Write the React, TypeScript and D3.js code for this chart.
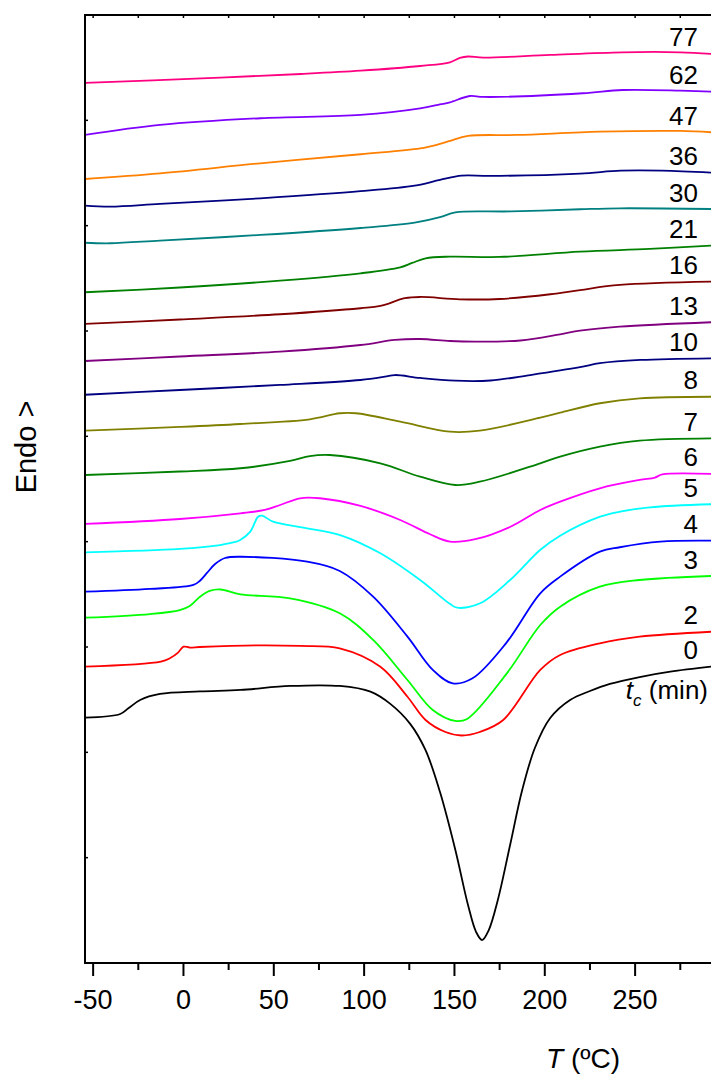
import React from "react";
import * as d3 from "d3";

type P = [number, number];

// x: temperature (ºC), y: heat flow (a.u., endo up, curves offset)
const tc77: P[] = [[-54.5,83.55],[10,83.98],[65,84.40],[98,84.71],[131,85.16],[147.5,85.51],[153,85.92],[157.5,86.06],[166,85.95],[203,86.21],[243,86.46],[275,86.46],[292,86.30]];
const tc62: P[] = [[-54.5,78.61],[-13,79.56],[42.5,80.20],[98,80.51],[131,81.13],[142,81.51],[147.5,81.71],[158.5,82.31],[166,82.22],[221,82.57],[243,82.88],[275,82.82],[292,82.72]];
const tc47: P[] = [[-54.5,74.43],[-13,74.97],[42.5,75.92],[98,76.78],[131,77.33],[142,77.76],[147.5,78.04],[157.5,78.52],[184.5,78.61],[230.5,78.92],[275,78.99],[292,78.87]];
const tc36: P[] = [[-54.5,71.90],[-40.5,71.80],[-13,72.06],[42.5,72.60],[98,73.27],[128,73.80],[142,74.34],[154,74.75],[169.5,74.72],[219.5,74.95],[242,75.22],[265,75.22],[292,75.03]];
const tc30: P[] = [[-54.5,68.38],[-40.5,68.33],[-13,68.58],[42.5,69.12],[98,69.78],[128,70.28],[142,70.80],[150.5,71.27],[181,71.35],[219.5,71.56],[241.5,71.65],[292,71.58]];
const tc21: P[] = [[-54.5,63.68],[-2,64.13],[53.5,64.78],[98,65.48],[120,66.05],[126.5,66.46],[134,66.90],[147.5,67.06],[175,67.03],[219.5,67.53],[258,67.79],[292,68.10]];
const tc16: P[] = [[-54.5,60.67],[-2,61.09],[53.5,61.59],[98,62.16],[109,62.38],[122.5,63.11],[131,63.23],[153,63.01],[175,63.04],[203,63.49],[219.5,63.89],[241.5,64.37],[292,64.68]];
const tc13: P[] = [[-54.5,57.15],[-2,57.58],[53.5,58.04],[98,58.67],[117,59.15],[131,59.24],[147.5,59.05],[161.5,58.99],[186.5,59.10],[208.5,59.69],[219.5,60.03],[241.5,60.41],[292,60.83]];
const tc10: P[] = [[-54.5,53.95],[-2,54.40],[53.5,54.88],[98,55.35],[111.5,55.66],[117,55.82],[131,55.54],[150.5,55.28],[170,55.30],[192,55.82],[219.5,56.56],[230.5,56.94],[253,57.25],[292,57.41]];
const tc8: P[] = [[-54.5,50.54],[-2,50.89],[31.5,51.17],[70,51.62],[86.5,52.19],[95.5,52.19],[120,51.39],[147.5,50.44],[164,50.54],[197.5,51.77],[208.5,52.25],[230.5,53.14],[252.5,53.61],[292,53.76]];
const tc7: P[] = [[-54.5,46.33],[-2,46.66],[31.5,46.97],[59,47.66],[70,48.13],[81,48.23],[109,47.44],[131,46.17],[150.5,45.38],[164,45.69],[197.5,47.44],[208.5,48.07],[230.5,49.02],[252.5,49.59],[292,49.81]];
const tc6: P[] = [[-54.5,41.68],[-2,42.15],[31.5,42.69],[45,43.01],[53.5,43.48],[64.5,44.12],[75.5,44.12],[98,43.39],[120,42.06],[136.5,40.70],[147.5,40.00],[161.5,40.23],[181,41.42],[197.5,43.01],[208.5,43.80],[230.5,45.07],[252.5,45.86],[261,46.09],[265,46.38],[292,46.43]];
const tc5: P[] = [[-54.5,38.99],[-2,39.31],[20.3,39.68],[28.6,39.97],[31.4,40.16],[37,40.95],[41.3,42.37],[43.5,42.47],[49.6,41.90],[68.4,41.27],[86.7,40.63],[109,38.90],[131,36.36],[147.6,34.08],[151.5,33.73],[164.2,34.15],[180.8,36.36],[197.4,39.21],[208.5,40.57],[230.6,42.37],[241.7,42.85],[258.3,43.26],[292,43.55]];
const tc4: P[] = [[-54.5,35.25],[-18.5,35.51],[5.5,35.89],[9,36.27],[13,37.03],[17.5,37.88],[23,38.45],[31.5,38.57],[68.5,38.10],[86.5,37.22],[105,34.78],[124,30.98],[138,27.82],[149,26.55],[160,27.03],[178.5,30.35],[197.5,35.10],[208.5,36.68],[230.5,39.05],[241.5,39.47],[264,40.00],[292,40.09]];
const tc3: P[] = [[-54.5,32.78],[-18.5,33.13],[-2,33.51],[3.5,33.89],[9,34.75],[14.5,35.32],[20.5,35.46],[31.5,35.00],[59,34.62],[86.5,33.20],[105,30.67],[124,26.87],[138,24.02],[150.5,22.98],[157,23.17],[179,27.50],[197.5,32.09],[208.5,33.83],[230.5,35.73],[252.5,36.36],[292,36.74]];
const tc2: P[] = [[-54.5,28.13],[-12.5,28.61],[-7.5,28.93],[-3,29.46],[0,30.03],[3.5,29.95],[9,30.00],[42.5,30.16],[64.5,30.10],[86.5,29.88],[109,28.13],[124,25.28],[134,23.07],[145,21.93],[154,21.60],[164,21.93],[177,23.07],[197.5,27.82],[208.5,29.24],[230.5,30.35],[252.5,30.98],[292,31.45]];
const tc0: P[] = [[-54.5,23.29],[-35,23.64],[-30.5,24.18],[-24,24.97],[-13,25.54],[9,25.78],[31.5,25.92],[59,26.30],[86.5,26.30],[103.5,25.76],[114.5,24.60],[125.5,22.70],[134,20.20],[142,16.23],[150.5,10.73],[157.5,5.51],[162,2.94],[165.3,2.18],[169,3.13],[174,5.98],[180.8,11.20],[187.5,16.42],[194.5,20.41],[203,23.26],[214,24.97],[225,25.82],[236,26.49],[252.5,27.15],[269.5,27.66],[292,28.13]];

const curves: P[][] = [tc77, tc62, tc47, tc36, tc30, tc21, tc16, tc13, tc10, tc8, tc7, tc6, tc5, tc4, tc3, tc2, tc0];
const labels = ["77", "62", "47", "36", "30", "21", "16", "13", "10", "8", "7", "6", "5", "4", "3", "2", "0"];
const colors = ["#FF0080", "#8000FF", "#FF8000", "#000080", "#008080", "#008000", "#800000", "#800080", "#000080", "#808000", "#008000", "#FF00FF", "#00FFFF", "#0000FF", "#00FF00", "#FF0000", "#000000"];

const xMajor = [-50, 0, 50, 100, 150, 200, 250];
const xMinor = [-25, 25, 75, 125, 175, 225, 275];
const yMinor = [10, 20, 30, 40, 50, 60, 70, 80];

const FONT = "'Liberation Sans', Arial, Helvetica, sans-serif";

export default function App() {
  const W = 711, H = 1075;
  const left = 85, right = 711, top = 15, bottom = 963;
  const x = d3.scaleLinear().domain([-54.5, 292]).range([left, right]);
  const y = d3.scaleLinear().domain([0, 90]).range([bottom, top]);
  const line = d3.line<P>().x(d => x(d[0])).y(d => y(d[1])).curve(d3.curveCatmullRom.alpha(0.5));

  return (
    <svg width={W} height={H} style={{ position: "absolute", left: 0, top: 0, display: "block", background: "#fff" }} fontFamily={FONT}>
      <defs>
        <clipPath id="plotclip">
          <rect x={left} y={top} width={right - left} height={bottom - top} />
        </clipPath>
      </defs>
      <g clipPath="url(#plotclip)">
        {curves.map((c, i) => (
          <path key={i} d={line(c) || ""} fill="none" stroke={colors[i]} strokeWidth={1.8} strokeLinejoin="round" />
        ))}
      </g>
      {curves.map((c, i) => (
        <text key={"l" + i} x={698} y={y(c[c.length - 1][1]) - 7.5} textAnchor="end" fontSize={26} fill="#000">{labels[i]}</text>
      ))}
      <text x={708} y={699} textAnchor="end" fontSize={26} fill="#000">
        <tspan fontStyle="italic">t</tspan>
        <tspan fontStyle="italic" fontSize={17} dy={7}>c</tspan>
        <tspan dy={-7}> (min)</tspan>
      </text>
      {/* frame */}
      <line x1={left} x2={right} y1={top} y2={top} stroke="#000" strokeWidth={2} />
      <line x1={left} x2={left} y1={top - 1} y2={bottom + 1} stroke="#000" strokeWidth={2} />
      <line x1={left - 1} x2={right} y1={bottom} y2={bottom} stroke="#000" strokeWidth={2} />
      {/* bottom ticks */}
      {xMajor.map(t => (
        <g key={"M" + t}>
          <line x1={x(t)} x2={x(t)} y1={bottom} y2={bottom + 13} stroke="#000" strokeWidth={2} />
          <text x={x(t)} y={1009} textAnchor="middle" fontSize={27}>{t}</text>
        </g>
      ))}
      {xMinor.map(t => (
        <line key={"m" + t} x1={x(t)} x2={x(t)} y1={bottom} y2={bottom + 7} stroke="#000" strokeWidth={2} />
      ))}
      {/* top ticks (inward) */}
      {[...xMajor, ...xMinor].map(t => (
        <line key={"t" + t} x1={x(t)} x2={x(t)} y1={top} y2={top + 3} stroke="#000" strokeWidth={1.5} />
      ))}
      {/* left ticks (inward) */}
      {yMinor.map(v => (
        <line key={"y" + v} x1={left} x2={left + 3} y1={y(v)} y2={y(v)} stroke="#000" strokeWidth={1.5} />
      ))}
      <text x={583} y={1068} textAnchor="middle" fontSize={28}>
        <tspan fontStyle="italic">T</tspan> (ºC)
      </text>
      <text transform="translate(36,447) rotate(-90)" textAnchor="middle" fontSize={29}>Endo &gt;</text>
    </svg>
  );
}
